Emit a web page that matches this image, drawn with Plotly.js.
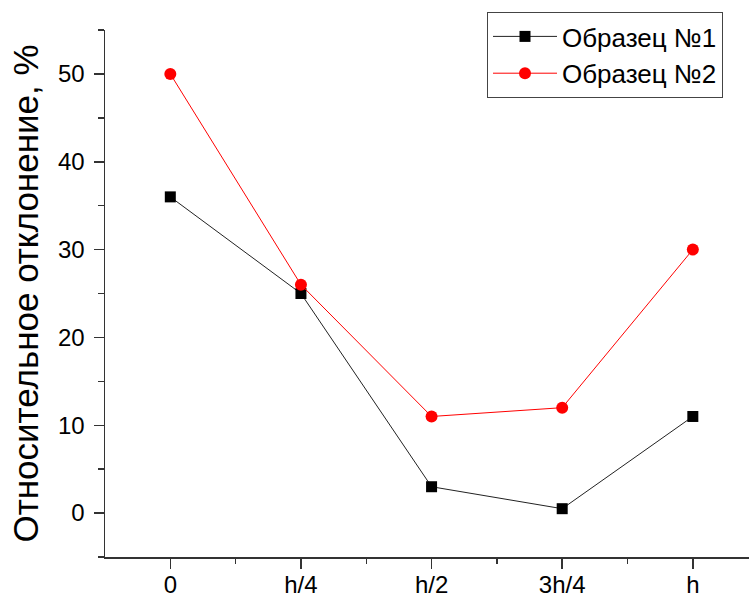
<!DOCTYPE html>
<html>
<head>
<meta charset="utf-8">
<script src="https://cdn.plot.ly/plotly-3.0.1.min.js"></script>
<style>
  html, body { margin: 0; padding: 0; background: #fff; overflow: hidden; }
  #chart { width: 749px; height: 599px; }
</style>
</head>
<body>
<div id="chart"></div>
<script>
// Measurement positions along the sample height
const positions = ['0', 'h/4', 'h/2', '3h/4', 'h'];
const positionIndex = [0, 1, 2, 3, 4];

// Relative deviation, %
const sample1 = [36, 25, 3, 0.5, 11];
const sample2 = [50, 26, 11, 12, 30];

const seriesNames = ['Образец №1', 'Образец №2'];

const font = 'Arial, "Liberation Sans", sans-serif';

const traces = [
  {
    x: positionIndex, y: sample1, name: seriesNames[0],
    type: 'scatter', mode: 'lines+markers',
    line: { color: '#222222', width: 1 },
    marker: { symbol: 'square', size: 11, color: '#000000' }
  },
  {
    x: positionIndex, y: sample2, name: seriesNames[1],
    type: 'scatter', mode: 'lines+markers',
    line: { color: '#ff0000', width: 1 },
    marker: { symbol: 'circle', size: 12, color: '#ff0000' }
  }
];

const axisCommon = {
  showgrid: false, zeroline: false,
  showline: true, linecolor: '#333', linewidth: 1.5,
  ticks: 'outside', ticklen: 10, tickwidth: 1.5, tickcolor: '#333',
  tickfont: { family: font, size: 24, color: '#000' },
  mirror: false
};

const layout = {
  width: 749, height: 599,
  margin: { l: 105, r: 0, t: 30, b: 42 },
  paper_bgcolor: '#fff', plot_bgcolor: '#fff',
  showlegend: true,
  legend: {
    bgcolor: '#fff', bordercolor: '#444', borderwidth: 1,
    font: { family: font, size: 26, color: '#000' },
    itemwidth: 64,
    tracegroupgap: 0
  },
  xaxis: Object.assign({}, axisCommon, {
    range: [-0.5, 4.43],
    tickmode: 'array', tickvals: positionIndex, ticktext: positions,
    ticklabelstandoff: -4,
    minor: { tickmode: 'array', tickvals: [0.5, 1.5, 2.5, 3.5], ticks: 'outside', ticklen: 5, tickwidth: 1.5, tickcolor: '#333' }
  }),
  yaxis: Object.assign({}, axisCommon, {
    range: [-5, 55],
    tickmode: 'array', tickvals: [0, 10, 20, 30, 40, 50],
    ticklabelstandoff: 4,
    minor: { tickmode: 'array', tickvals: [-5, 5, 15, 25, 35, 45, 55], ticks: 'outside', ticklen: 6, tickwidth: 1.5, tickcolor: '#333' },
    title: { text: 'Относительное отклонение, %', font: { family: font, size: 35, color: '#000' }, standoff: 8 },
    automargin: false
  })
};

// legend placed in pixel terms relative to the plot area
const plotW = 749 - 105, plotH = 599 - 30 - 42;
layout.legend.x = (487 - 105) / plotW;
layout.legend.y = 1 - (12 - 30) / plotH;
layout.legend.xanchor = 'left';
layout.legend.yanchor = 'top';

Plotly.newPlot('chart', traces, layout, { displayModeBar: false, staticPlot: true });
</script>
</body>
</html>
